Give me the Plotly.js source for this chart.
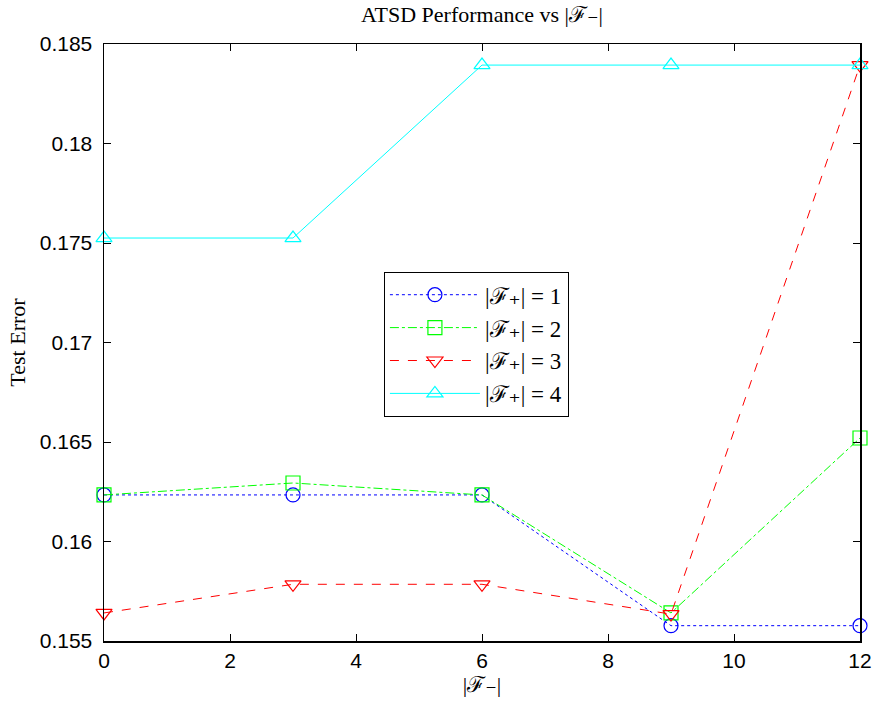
<!DOCTYPE html>
<html>
<head>
<meta charset="utf-8">
<script src="https://cdn.plot.ly/plotly-3.0.1.min.js"></script>
<style>html,body{margin:0;padding:0;background:#fff;}</style>
</head>
<body>
<div id="chart" style="width:876px;height:704px;"></div>
<script>
const fMinus = [0, 3, 6, 9, 12];
const seriesNames = ['|ℱ₊| = 1', '|ℱ₊| = 2', '|ℱ₊| = 3', '|ℱ₊| = 4'];
const errF1 = [0.16234, 0.16234, 0.16234, 0.15577, 0.15577];
const errF2 = [0.16234, 0.16294, 0.16234, 0.15641, 0.16520];
const errF3 = [0.15641, 0.15785, 0.15785, 0.15635, 0.18394];
const errF4 = [0.17525, 0.17525, 0.18394, 0.18394, 0.18394];
const yTickVals = [0.155, 0.16, 0.165, 0.17, 0.175, 0.18, 0.185];
const yTickText = ['0.155', '0.16', '0.165', '0.17', '0.175', '0.18', '0.185'];
const xTickVals = [0, 2, 4, 6, 8, 10, 12];

const styles = [
  {color: '#0000ff', dash: 'dot', symbol: 'circle-open'},
  {color: '#00ff00', dash: 'dashdot', symbol: 'square-open'},
  {color: '#ff0000', dash: 'dash', symbol: 'triangle-down-open'},
  {color: '#00ffff', dash: 'solid', symbol: 'triangle-up-open'}
];
const ys = [errF1, errF2, errF3, errF4];
const traces = ys.map((y, i) => ({
  x: fMinus, y: y, name: seriesNames[i], type: 'scatter', mode: 'lines+markers',
  cliponaxis: false,
  line: {color: styles[i].color, dash: styles[i].dash, width: 1},
  marker: {symbol: styles[i].symbol, size: 14, color: styles[i].color, line: {width: 1.2, color: styles[i].color}}
}));

const serif = 'Liberation Serif, DejaVu Serif, serif';
const sans = 'Liberation Sans, Arial, sans-serif';
const layout = {
  width: 876, height: 704,
  margin: {l: 104, r: 16, t: 44, b: 63},
  paper_bgcolor: '#fff', plot_bgcolor: '#fff',
  title: {text: 'ATSD Performance vs |ℱ₋|', font: {family: serif, size: 22, color: '#000'}, x: 0.5, xref: 'paper', y: 0.99, yanchor: 'top'},
  xaxis: {
    range: [0, 12], tickvals: xTickVals, ticks: 'inside', ticklen: 7, tickwidth: 1, tickcolor: '#000',
    showline: true, linecolor: '#000', linewidth: 1.5, mirror: 'ticks', showgrid: false, zeroline: false,
    tickfont: {family: sans, size: 21, color: '#000'},
    title: {text: '|ℱ₋|', font: {family: serif, size: 22, color: '#000'}, standoff: 6}
  },
  yaxis: {
    range: [0.155, 0.185], tickvals: yTickVals, ticktext: yTickText, ticks: 'inside', ticklen: 7, tickwidth: 1, tickcolor: '#000',
    showline: true, linecolor: '#000', linewidth: 1.5, mirror: 'ticks', showgrid: false, zeroline: false,
    tickfont: {family: sans, size: 21, color: '#000'}, ticklabelstandoff: 6,
    title: {text: 'Test Error', font: {family: serif, size: 22, color: '#000'}, standoff: 8}
  },
  legend: {
    x: 0.370, y: 0.618, xanchor: 'left', yanchor: 'top',
    bgcolor: '#fff', bordercolor: '#000', borderwidth: 1.2,
    font: {family: serif, size: 23, color: '#000'},
    itemwidth: 90
  },
  showlegend: true
};
Plotly.newPlot('chart', traces, layout, {displayModeBar: false, staticPlot: true});
</script>
</body>
</html>
